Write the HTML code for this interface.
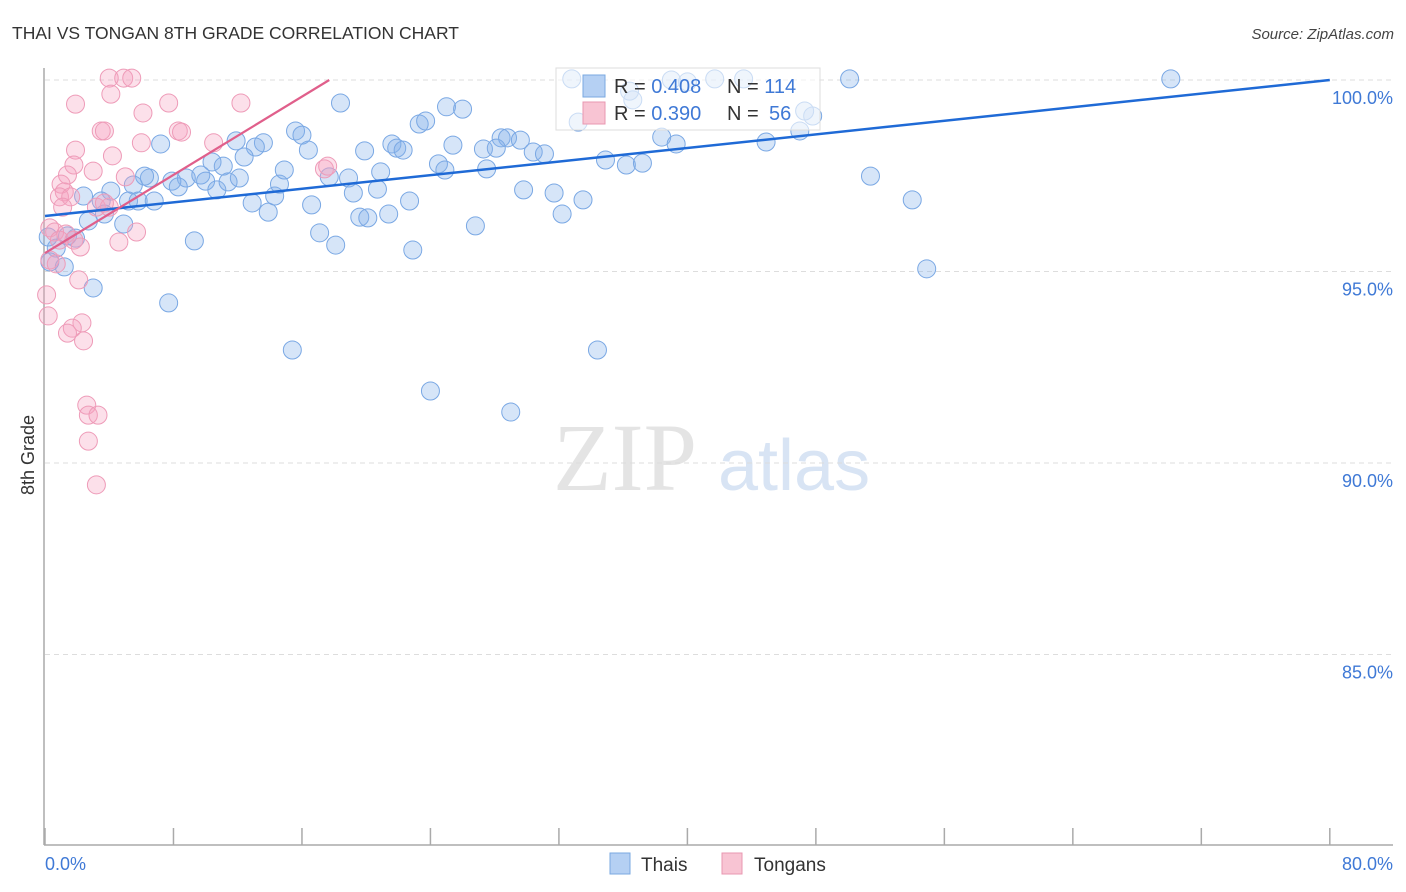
<!DOCTYPE html>
<html><head><meta charset="utf-8"><style>
body{margin:0;background:#fff;font-family:"Liberation Sans",sans-serif}
svg{display:block}
</style></head><body>
<svg id="chart" width="1406" height="892">
<text x="12" y="39" font-size="17.5" fill="#333">THAI VS TONGAN 8TH GRADE CORRELATION CHART</text>
<text x="1394" y="39" font-size="15" fill="#444" font-style="italic" text-anchor="end">Source: ZipAtlas.com</text>
<g>
<text x="553" y="490" font-family="Liberation Serif,serif" font-size="96" fill="#e4e4e4">ZIP</text>
<text x="718" y="490" font-size="72" fill="#d8e4f4">atlas</text>
</g>
<g id="grid"></g>
<g id="axes"></g>
<g id="pts"></g>
<g id="trends"></g>
<text transform="translate(34,455) rotate(-90)" font-size="18" fill="#333" text-anchor="middle">8th Grade</text>
<g>
<rect x="556" y="68" width="264" height="62" fill="#fff" fill-opacity="0.6" stroke="#ddd"/>
<rect x="583" y="75" width="22" height="22" fill="#b5d0f3" stroke="#7aa8e0"/>
<rect x="583" y="102" width="22" height="22" fill="#f8c4d3" stroke="#e897b0"/>
<text x="614" y="93" font-size="20" fill="#333">R = <tspan fill="#3f79d6">0.408</tspan><tspan x="727">N = </tspan><tspan fill="#3f79d6">114</tspan></text>
<text x="614" y="120" font-size="20" fill="#333">R = <tspan fill="#3f79d6">0.390</tspan><tspan x="727">N = </tspan><tspan fill="#3f79d6" x="769">56</tspan></text>
</g>
<g>
<rect x="610" y="853" width="20" height="21" fill="#b5d0f3" stroke="#7aa8e0"/>
<text x="641" y="871" font-size="19" fill="#333">Thais</text>
<rect x="722" y="853" width="20" height="21" fill="#f8c4d3" stroke="#e897b0"/>
<text x="754" y="871" font-size="19" fill="#333">Tongans</text>
</g>
</svg>
<script>
const yTicks=[100,95,90,85];
const yTickLabels=["100.0%","95.0%","90.0%","85.0%"];
const xTickVals=[0,8,16,24,32,40,48,56,64,72,80];
const thaiX=[7.2,11.9,13.6,15.6,16.0,18.4,25.0,26.0,23.3,23.7,28.4,28.8,29.6,27.3,25.4,21.6,21.9,22.3,19.9,16.4,13.1,10.4,11.1,12.4,8.8,9.7,10.0,10.7,11.4,12.1,6.5,6.2,7.9,8.3,5.5,4.1,2.4,3.5,5.2,5.8,6.8,4.9,3.7,2.7,1.4,1.9,0.7,0.3,1.2,3.0,7.7,9.3,12.9,13.9,14.3,14.6,14.9,16.6,17.1,18.1,17.7,18.9,19.2,19.6,20.1,20.7,20.9,21.4,22.7,22.9,24.5,24.9,26.8,27.5,28.1,29.8,30.4,31.1,31.7,32.2,33.5,34.9,36.2,37.2,38.4,39.3,44.9,47.0,47.8,47.3,51.4,54.0,54.9,50.1,70.1,15.4,24.0,29.0,34.4,33.2,32.8,36.6,36.4,39.0,40.0,41.7,43.5,0.2];
const thaiY=[98.33,98.41,98.36,98.67,98.56,99.40,99.30,99.24,98.85,98.93,98.49,98.49,98.43,98.20,98.30,98.33,98.22,98.17,98.15,98.17,98.25,97.86,97.75,97.99,97.44,97.52,97.36,97.13,97.34,97.44,97.44,97.49,97.36,97.21,97.26,97.10,96.97,96.84,96.84,96.84,96.84,96.24,96.50,96.32,95.93,95.87,95.61,95.25,95.12,94.57,94.18,95.80,96.79,96.55,96.97,97.28,97.65,96.74,96.01,95.69,97.47,97.44,97.05,96.42,96.40,97.15,97.60,96.50,96.84,95.56,97.81,97.65,96.19,97.68,98.22,97.13,98.12,98.07,97.05,96.50,96.87,97.91,97.78,97.83,98.51,98.33,98.38,98.67,99.06,99.19,97.49,96.87,95.07,100.03,100.03,92.95,91.88,91.33,92.95,98.90,100.03,99.48,99.71,100.0,99.95,100.03,100.03,95.9];
const tonganX=[4.0,4.9,5.4,4.1,1.9,7.7,12.2,6.1,3.5,3.7,8.3,8.5,10.5,6.0,4.2,1.9,1.8,3.0,1.4,1.0,1.2,5.0,0.9,1.6,1.1,3.2,4.0,3.7,5.7,4.6,0.3,0.6,1.3,0.9,1.8,2.2,0.3,0.7,0.1,0.2,2.1,2.3,1.7,1.4,2.4,2.6,2.7,3.3,2.7,3.2,17.4,17.6];
const tonganY=[100.05,100.05,100.05,99.63,99.37,99.40,99.40,99.14,98.67,98.67,98.67,98.64,98.36,98.36,98.02,98.17,97.78,97.62,97.52,97.28,97.08,97.47,96.95,96.95,96.68,96.68,96.68,96.79,96.03,95.77,96.14,96.03,95.98,95.82,95.82,95.64,95.30,95.20,94.39,93.84,94.78,93.66,93.52,93.39,93.19,91.51,91.25,91.25,90.57,89.43,97.68,97.75];
const thaiTrend=[[0,96.45],[80,100.0]];
const tonganTrend=[[0,95.48],[17.7,100.0]];

const NS="http://www.w3.org/2000/svg";
const xs=v=>45+v*16.06;
const ys=v=>80+(100-v)*38.3;
function mk(tag,attrs,parent){const e=document.createElementNS(NS,tag);for(const k in attrs)e.setAttribute(k,attrs[k]);parent.appendChild(e);return e;}
const grid=document.getElementById('grid'),axes=document.getElementById('axes'),pts=document.getElementById('pts'),tr=document.getElementById('trends');
yTicks.forEach((t,i)=>{
  const l=mk('line',{x1:45,x2:1393,y1:ys(t),y2:ys(t),stroke:'#ddd','stroke-dasharray':'5,4'},grid);
  
  
  const tx=mk('text',{x:1393,y:ys(t)+24,'font-size':18,fill:'#3f79d6','text-anchor':'end'},axes);
  tx.textContent=yTickLabels[i];
  
  
});
const ya=mk('line',{x1:44,x2:44,y1:68,y2:845,stroke:'#aaa','stroke-width':1.5},axes);


const xa=mk('line',{x1:44,x2:1393,y1:845,y2:845,stroke:'#aaa','stroke-width':1.5},axes);


xTickVals.forEach(v=>{
  const t=mk('line',{x1:xs(v),x2:xs(v),y1:828,y2:845,stroke:'#aaa','stroke-width':1.5},axes);
  
  
});
const x0=mk('text',{x:45,y:870,'font-size':18,fill:'#3f79d6'},axes);x0.textContent='0.0%';


const x1=mk('text',{x:1393,y:870,'font-size':18,fill:'#3f79d6','text-anchor':'end'},axes);x1.textContent='80.0%';


thaiX.forEach((v,i)=>{
  const c=mk('circle',{cx:xs(v),cy:ys(thaiY[i]),r:9,fill:'rgba(130,175,235,0.33)',stroke:'#7aa8e4','stroke-width':1},pts);
  
  
});
tonganX.forEach((v,i)=>{
  const c=mk('circle',{cx:xs(v),cy:ys(tonganY[i]),r:9,fill:'rgba(245,160,190,0.33)',stroke:'#ee9bb8','stroke-width':1},pts);
  
  
});
const lb=mk('line',{x1:xs(thaiTrend[0][0]),y1:ys(thaiTrend[0][1]),x2:xs(thaiTrend[1][0]),y2:ys(thaiTrend[1][1]),stroke:'#1f6ad6','stroke-width':2.5},tr);


const lp=mk('line',{x1:xs(tonganTrend[0][0]),y1:ys(tonganTrend[0][1]),x2:xs(tonganTrend[1][0]),y2:ys(tonganTrend[1][1]),stroke:'#e05f8b','stroke-width':2.2},tr);


</script>
</body></html>
